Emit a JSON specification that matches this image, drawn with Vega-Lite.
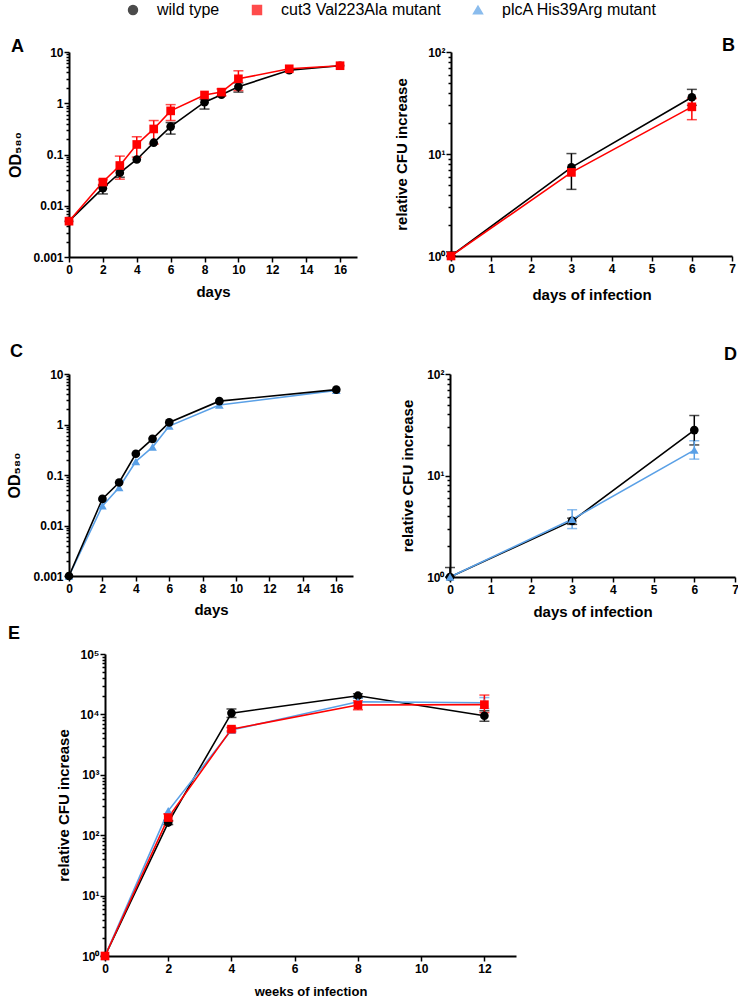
{
  "$schema": "https://vega.github.io/schema/vega-lite/v6.json",
  "padding": {"left": 6, "top": 2, "right": 0, "bottom": 0},
  "config": {
    "font": "Liberation Sans",
    "view": {"stroke": null},
    "axis": {"domainColor": "#000", "domainWidth": 2, "tickColor": "#000", "tickWidth": 1.5, "labelColor": "#000", "labelFont": "Liberation Sans", "labelFontWeight": "bold", "labelFontSize": 12, "titleColor": "#000", "titleFont": "Liberation Sans", "titleFontWeight": "bold", "titleFontSize": 15, "grid": false, "labelOverlap": false, "labelFlush": false},
    "title": {"fontSize": 18, "fontWeight": "bold", "color": "#000", "font": "Liberation Sans", "offset": 0},
    "legend": {"labelFontSize": 16, "labelFont": "Liberation Sans", "labelColor": "#000", "symbolSize": 80, "columnPadding": 29, "labelOffset": 16}
  },
  "datasets": {
    "A": [
      {"s": "wt", "x": 0, "y": 0.005},
      {"s": "wt", "x": 2, "y": 0.022, "lo": 0.017, "hi": 0.025},
      {"s": "wt", "x": 3, "y": 0.044, "lo": 0.036, "hi": 0.05},
      {"s": "wt", "x": 4, "y": 0.08},
      {"s": "wt", "x": 5, "y": 0.17},
      {"s": "wt", "x": 6, "y": 0.35, "lo": 0.25, "hi": 0.42},
      {"s": "wt", "x": 8, "y": 1.05, "lo": 0.77, "hi": 1.2},
      {"s": "wt", "x": 9, "y": 1.47},
      {"s": "wt", "x": 10, "y": 2.1, "lo": 1.65, "hi": 2.5},
      {"s": "wt", "x": 13, "y": 4.4},
      {"s": "wt", "x": 16, "y": 5.4},
      {"s": "cut3", "x": 0, "y": 0.005},
      {"s": "cut3", "x": 2, "y": 0.029, "lo": 0.026, "hi": 0.032},
      {"s": "cut3", "x": 3, "y": 0.061, "lo": 0.033, "hi": 0.093},
      {"s": "cut3", "x": 4, "y": 0.157, "lo": 0.089, "hi": 0.222},
      {"s": "cut3", "x": 5, "y": 0.315, "lo": 0.16, "hi": 0.46},
      {"s": "cut3", "x": 6, "y": 0.71, "lo": 0.46, "hi": 0.94},
      {"s": "cut3", "x": 8, "y": 1.45},
      {"s": "cut3", "x": 9, "y": 1.65, "lo": 1.4, "hi": 1.9},
      {"s": "cut3", "x": 10, "y": 3.0, "lo": 1.77, "hi": 4.3},
      {"s": "cut3", "x": 13, "y": 4.7},
      {"s": "cut3", "x": 16, "y": 5.4}
    ],
    "B": [
      {"s": "wt", "x": 0, "y": 1, "lo": 1, "hi": 1.1},
      {"s": "wt", "x": 3, "y": 7.4, "lo": 4.5, "hi": 10.1},
      {"s": "wt", "x": 6, "y": 36, "lo": 30, "hi": 43},
      {"s": "cut3", "x": 0, "y": 1},
      {"s": "cut3", "x": 3, "y": 6.6},
      {"s": "cut3", "x": 6, "y": 29, "lo": 21.7, "hi": 35}
    ],
    "C": [
      {"s": "plcA", "x": 0, "y": 0.001},
      {"s": "plcA", "x": 2, "y": 0.0245},
      {"s": "plcA", "x": 3, "y": 0.0565},
      {"s": "plcA", "x": 4, "y": 0.185},
      {"s": "plcA", "x": 5, "y": 0.357},
      {"s": "plcA", "x": 6, "y": 0.93},
      {"s": "plcA", "x": 9, "y": 2.43},
      {"s": "plcA", "x": 16, "y": 4.74},
      {"s": "wt", "x": 0, "y": 0.001},
      {"s": "wt", "x": 2, "y": 0.0336},
      {"s": "wt", "x": 3, "y": 0.071},
      {"s": "wt", "x": 4, "y": 0.263},
      {"s": "wt", "x": 5, "y": 0.52},
      {"s": "wt", "x": 6, "y": 1.1},
      {"s": "wt", "x": 9, "y": 2.9},
      {"s": "wt", "x": 16, "y": 4.9}
    ],
    "D": [
      {"s": "wt", "x": 0, "y": 1, "lo": 1, "hi": 1.24},
      {"s": "wt", "x": 3, "y": 3.57, "lo": 3.3, "hi": 3.8},
      {"s": "wt", "x": 6, "y": 28, "lo": 20, "hi": 39},
      {"s": "plcA", "x": 0, "y": 1},
      {"s": "plcA", "x": 3, "y": 3.7, "lo": 3.0, "hi": 4.6},
      {"s": "plcA", "x": 6, "y": 17.8, "lo": 14.5, "hi": 22}
    ],
    "E": [
      {"s": "wt", "x": 0, "y": 1},
      {"s": "wt", "x": 2, "y": 162, "lo": 150, "hi": 175},
      {"s": "wt", "x": 4, "y": 10500, "lo": 8900, "hi": 12300},
      {"s": "wt", "x": 8, "y": 20400, "lo": 18800, "hi": 22000},
      {"s": "wt", "x": 12, "y": 9500, "lo": 7700, "hi": 11500},
      {"s": "plcA", "x": 0, "y": 1},
      {"s": "plcA", "x": 2, "y": 253},
      {"s": "plcA", "x": 4, "y": 5500, "lo": 5000, "hi": 6000},
      {"s": "plcA", "x": 8, "y": 16200, "lo": 14000, "hi": 18500},
      {"s": "plcA", "x": 12, "y": 15600, "lo": 12500, "hi": 19000},
      {"s": "cut3", "x": 0, "y": 1},
      {"s": "cut3", "x": 2, "y": 196, "lo": 170, "hi": 225},
      {"s": "cut3", "x": 4, "y": 5700, "lo": 5300, "hi": 6100},
      {"s": "cut3", "x": 8, "y": 14300, "lo": 11900, "hi": 16900},
      {"s": "cut3", "x": 12, "y": 14500, "lo": 10700, "hi": 20900}
    ]
  },
  "spacing": 41,
  "vconcat": [
    {
      "spacing": 37,
      "hconcat": [
        {
          "width": 288, "height": 205,
          "title": {"text": "A", "anchor": "start", "frame": "bounds", "dx": 3, "dy": 14},
          "data": {"name": "A"},
          "encoding": {
            "x": {"field": "x", "type": "quantitative", "title": "days", "scale": {"domain": [0, 17], "nice": false, "zero": false}, "axis": {"values": [0, 2, 4, 6, 8, 10, 12, 14, 16], "tickSize": 5, "labelPadding": 2, "titlePadding": 9}},
            "color": {"field": "s", "type": "nominal", "scale": {"domain": ["wt", "cut3", "plcA"], "range": ["#000000", "#ff0000", "#5aa0e6"]}, "legend": {"title": null, "orient": "none", "direction": "horizontal", "legendX": 56, "legendY": -50, "labelExpr": "datum.value == 'wt' ? 'wild type' : datum.value == 'cut3' ? 'cut3 Val223Ala mutant' : 'plcA  His39Arg mutant'"}}
          },
          "layer": [
            {
              "transform": [{"filter": "isValid(datum.lo)"}],
              "mark": {"type": "errorbar", "ticks": {"size": 10}, "thickness": 1.5},
              "encoding": {"y": {"field": "lo", "type": "quantitative", "title": "OD₅₈₀", "scale": {"type": "log"}}, "y2": {"field": "hi"}}
            },
            {
              "mark": {"type": "line", "strokeWidth": 1.6, "point": {"filled": true, "size": 75, "opacity": 1}},
              "encoding": {
                "y": {"field": "y", "type": "quantitative", "title": "OD₅₈₀", "scale": {"type": "log", "domain": [0.001, 10], "nice": false},
                  "axis": {"values": [0.001, 0.002, 0.003, 0.004, 0.005, 0.006, 0.007, 0.008, 0.009, 0.01, 0.02, 0.03, 0.04, 0.05, 0.06, 0.07, 0.08, 0.09, 0.1, 0.2, 0.3, 0.4, 0.5, 0.6, 0.7, 0.8, 0.9, 1, 2, 3, 4, 5, 6, 7, 8, 9, 10],
                    "labelExpr": "indexof([0.001,0.01,0.1,1,10], datum.value) >= 0 ? format(datum.value, '~g') : ''",
                    "tickSize": {"condition": {"test": "indexof([0.001,0.01,0.1,1,10], datum.value) >= 0", "value": 5}, "value": 3},
                    "labelPadding": 1, "titlePadding": 9, "titleFontSize": 16}},
                "shape": {"field": "s", "type": "nominal", "scale": {"domain": ["wt", "cut3", "plcA"], "range": ["circle", "square", "triangle-up"]}, "legend": {"title": null, "orient": "none", "direction": "horizontal", "legendX": 56, "legendY": -50, "labelExpr": "datum.value == 'wt' ? 'wild type' : datum.value == 'cut3' ? 'cut3 Val223Ala mutant' : 'plcA  His39Arg mutant'"}}
              }
            }
          ]
        },
        {
          "width": 281, "height": 204,
          "title": {"text": "B", "anchor": "end", "frame": "group", "dx": 3, "dy": 13},
          "data": {"name": "B"},
          "encoding": {
            "x": {"field": "x", "type": "quantitative", "title": "days of infection", "scale": {"domain": [0, 7], "nice": false, "zero": false}, "axis": {"values": [0, 1, 2, 3, 4, 5, 6, 7], "tickSize": 5, "labelPadding": 2, "titlePadding": 13}},
            "color": {"field": "s", "type": "nominal", "scale": {"domain": ["wt", "cut3", "plcA"], "range": ["#000000", "#ff0000", "#5aa0e6"]}, "legend": {"title": null, "orient": "none", "direction": "horizontal", "legendX": 56, "legendY": -50, "labelExpr": "datum.value == 'wt' ? 'wild type' : datum.value == 'cut3' ? 'cut3 Val223Ala mutant' : 'plcA  His39Arg mutant'"}}
          },
          "layer": [
            {
              "transform": [{"filter": "isValid(datum.lo)"}],
              "mark": {"type": "errorbar", "ticks": {"size": 10}, "thickness": 1.5},
              "encoding": {"y": {"field": "lo", "type": "quantitative", "title": "relative CFU increase", "scale": {"type": "log"}}, "y2": {"field": "hi"}}
            },
            {
              "mark": {"type": "line", "strokeWidth": 1.6, "point": {"filled": true, "size": 75, "opacity": 1}},
              "encoding": {
                "y": {"field": "y", "type": "quantitative", "title": "relative CFU increase", "scale": {"type": "log", "domain": [1, 100], "nice": false},
                  "axis": {"values": [1, 2, 3, 4, 5, 6, 7, 8, 9, 10, 20, 30, 40, 50, 60, 70, 80, 90, 100],
                    "labelExpr": "datum.value == 1 ? '10⁰' : datum.value == 10 ? '10¹' : datum.value == 100 ? '10²' : ''",
                    "tickSize": {"condition": {"test": "indexof([1,10,100], datum.value) >= 0", "value": 5}, "value": 3},
                    "labelPadding": 1, "titlePadding": 18}},
                "shape": {"field": "s", "type": "nominal", "scale": {"domain": ["wt", "cut3", "plcA"], "range": ["circle", "square", "triangle-up"]}, "legend": {"title": null, "orient": "none", "direction": "horizontal", "legendX": 56, "legendY": -50, "labelExpr": "datum.value == 'wt' ? 'wild type' : datum.value == 'cut3' ? 'cut3 Val223Ala mutant' : 'plcA  His39Arg mutant'"}}
              }
            }
          ]
        }
      ]
    },
    {
      "spacing": 6,
      "vconcat": [
        {
          "spacing": 47,
          "hconcat": [
            {
              "width": 284, "height": 202,
              "title": {"text": "C", "anchor": "start", "frame": "bounds", "dx": 3, "dy": -3},
              "data": {"name": "C"},
              "encoding": {
                "x": {"field": "x", "type": "quantitative", "title": "days", "scale": {"domain": [0, 17], "nice": false, "zero": false}, "axis": {"values": [0, 2, 4, 6, 8, 10, 12, 14, 16], "tickSize": 5, "labelPadding": 2, "titlePadding": 8}},
                "color": {"field": "s", "type": "nominal", "scale": {"domain": ["wt", "cut3", "plcA"], "range": ["#000000", "#ff0000", "#5aa0e6"]}, "legend": {"title": null, "orient": "none", "direction": "horizontal", "legendX": 56, "legendY": -50, "labelExpr": "datum.value == 'wt' ? 'wild type' : datum.value == 'cut3' ? 'cut3 Val223Ala mutant' : 'plcA  His39Arg mutant'"}}
              },
              "layer": [
                {
                  "mark": {"type": "line", "strokeWidth": 1.6, "point": {"filled": true, "size": 75, "opacity": 1}},
                  "encoding": {
                    "y": {"field": "y", "type": "quantitative", "title": "OD₅₈₀", "scale": {"type": "log", "domain": [0.001, 10], "nice": false},
                      "axis": {"values": [0.001, 0.002, 0.003, 0.004, 0.005, 0.006, 0.007, 0.008, 0.009, 0.01, 0.02, 0.03, 0.04, 0.05, 0.06, 0.07, 0.08, 0.09, 0.1, 0.2, 0.3, 0.4, 0.5, 0.6, 0.7, 0.8, 0.9, 1, 2, 3, 4, 5, 6, 7, 8, 9, 10],
                        "labelExpr": "indexof([0.001,0.01,0.1,1,10], datum.value) >= 0 ? format(datum.value, '~g') : ''",
                        "tickSize": {"condition": {"test": "indexof([0.001,0.01,0.1,1,10], datum.value) >= 0", "value": 5}, "value": 3},
                        "labelPadding": 1, "titlePadding": 10, "titleFontSize": 16}},
                    "shape": {"field": "s", "type": "nominal", "scale": {"domain": ["wt", "cut3", "plcA"], "range": ["circle", "square", "triangle-up"]}, "legend": {"title": null, "orient": "none", "direction": "horizontal", "legendX": 56, "legendY": -50, "labelExpr": "datum.value == 'wt' ? 'wild type' : datum.value == 'cut3' ? 'cut3 Val223Ala mutant' : 'plcA  His39Arg mutant'"}}
                  }
                }
              ]
            },
            {
              "width": 285, "height": 203,
              "title": {"text": "D", "anchor": "end", "frame": "group", "dx": 2, "dy": 0},
              "data": {"name": "D"},
              "encoding": {
                "x": {"field": "x", "type": "quantitative", "title": "days of infection", "scale": {"domain": [0, 7], "nice": false, "zero": false}, "axis": {"values": [0, 1, 2, 3, 4, 5, 6, 7], "tickSize": 5, "labelPadding": 2, "titlePadding": 9}},
                "color": {"field": "s", "type": "nominal", "scale": {"domain": ["wt", "cut3", "plcA"], "range": ["#000000", "#ff0000", "#5aa0e6"]}, "legend": {"title": null, "orient": "none", "direction": "horizontal", "legendX": 56, "legendY": -50, "labelExpr": "datum.value == 'wt' ? 'wild type' : datum.value == 'cut3' ? 'cut3 Val223Ala mutant' : 'plcA  His39Arg mutant'"}}
              },
              "layer": [
                {
                  "transform": [{"filter": "isValid(datum.lo)"}],
                  "mark": {"type": "errorbar", "ticks": {"size": 10}, "thickness": 1.5},
                  "encoding": {"y": {"field": "lo", "type": "quantitative", "title": "relative CFU increase", "scale": {"type": "log"}}, "y2": {"field": "hi"}}
                },
                {
                  "mark": {"type": "line", "strokeWidth": 1.6, "point": {"filled": true, "size": 75, "opacity": 1}},
                  "encoding": {
                    "y": {"field": "y", "type": "quantitative", "title": "relative CFU increase", "scale": {"type": "log", "domain": [1, 100], "nice": false},
                      "axis": {"values": [1, 2, 3, 4, 5, 6, 7, 8, 9, 10, 20, 30, 40, 50, 60, 70, 80, 90, 100],
                        "labelExpr": "datum.value == 1 ? '10⁰' : datum.value == 10 ? '10¹' : datum.value == 100 ? '10²' : ''",
                        "tickSize": {"condition": {"test": "indexof([1,10,100], datum.value) >= 0", "value": 5}, "value": 3},
                        "labelPadding": 1, "titlePadding": 11}},
                    "shape": {"field": "s", "type": "nominal", "scale": {"domain": ["wt", "cut3", "plcA"], "range": ["circle", "square", "triangle-up"]}, "legend": {"title": null, "orient": "none", "direction": "horizontal", "legendX": 56, "legendY": -50, "labelExpr": "datum.value == 'wt' ? 'wild type' : datum.value == 'cut3' ? 'cut3 Val223Ala mutant' : 'plcA  His39Arg mutant'"}}
                  }
                }
              ]
            }
          ]
        },
        {
          "spacing": -14,
          "hconcat": [
            {
              "width": 1, "height": 302,
              "title": {"text": "E", "anchor": "start", "frame": "group", "dx": -61, "offset": 11},
              "data": {"values": [{"k": 1}]},
              "mark": {"type": "text", "text": ""},
              "encoding": {}
            },
            {
              "width": 411, "height": 302,
              "data": {"name": "E"},
              "encoding": {
                "x": {"field": "x", "type": "quantitative", "title": "weeks of infection", "scale": {"domain": [0, 13], "nice": false, "zero": false}, "axis": {"values": [0, 2, 4, 6, 8, 10, 12], "tickSize": 5, "labelPadding": 2, "titlePadding": 11, "titleFontSize": 13}},
                "color": {"field": "s", "type": "nominal", "scale": {"domain": ["wt", "cut3", "plcA"], "range": ["#000000", "#ff0000", "#5aa0e6"]}, "legend": {"title": null, "orient": "none", "direction": "horizontal", "legendX": 56, "legendY": -50, "labelExpr": "datum.value == 'wt' ? 'wild type' : datum.value == 'cut3' ? 'cut3 Val223Ala mutant' : 'plcA  His39Arg mutant'"}}
              },
              "layer": [
                {
                  "transform": [{"filter": "isValid(datum.lo)"}],
                  "mark": {"type": "errorbar", "ticks": {"size": 10}, "thickness": 1.5},
                  "encoding": {"y": {"field": "lo", "type": "quantitative", "title": "relative CFU increase", "scale": {"type": "log"}}, "y2": {"field": "hi"}}
                },
                {
                  "mark": {"type": "line", "strokeWidth": 1.6, "point": {"filled": true, "size": 75, "opacity": 1}},
                  "encoding": {
                    "y": {"field": "y", "type": "quantitative", "title": "relative CFU increase", "scale": {"type": "log", "domain": [1, 100000], "nice": false},
                      "axis": {"values": [1, 2, 3, 4, 5, 6, 7, 8, 9, 10, 20, 30, 40, 50, 60, 70, 80, 90, 100, 200, 300, 400, 500, 600, 700, 800, 900, 1000, 2000, 3000, 4000, 5000, 6000, 7000, 8000, 9000, 10000, 20000, 30000, 40000, 50000, 60000, 70000, 80000, 90000, 100000],
                        "labelExpr": "datum.value == 1 ? '10⁰' : datum.value == 10 ? '10¹' : datum.value == 100 ? '10²' : datum.value == 1000 ? '10³' : datum.value == 10000 ? '10⁴' : datum.value == 100000 ? '10⁵' : ''",
                        "tickSize": {"condition": {"test": "indexof([1,10,100,1000,10000,100000], datum.value) >= 0", "value": 5}, "value": 3},
                        "labelPadding": 1, "titlePadding": 8}},
                    "shape": {"field": "s", "type": "nominal", "scale": {"domain": ["wt", "cut3", "plcA"], "range": ["circle", "square", "triangle-up"]}, "legend": {"title": null, "orient": "none", "direction": "horizontal", "legendX": 56, "legendY": -50, "labelExpr": "datum.value == 'wt' ? 'wild type' : datum.value == 'cut3' ? 'cut3 Val223Ala mutant' : 'plcA  His39Arg mutant'"}}
                  }
                }
              ]
            }
          ]
        }
      ]
    }
  ]
}
